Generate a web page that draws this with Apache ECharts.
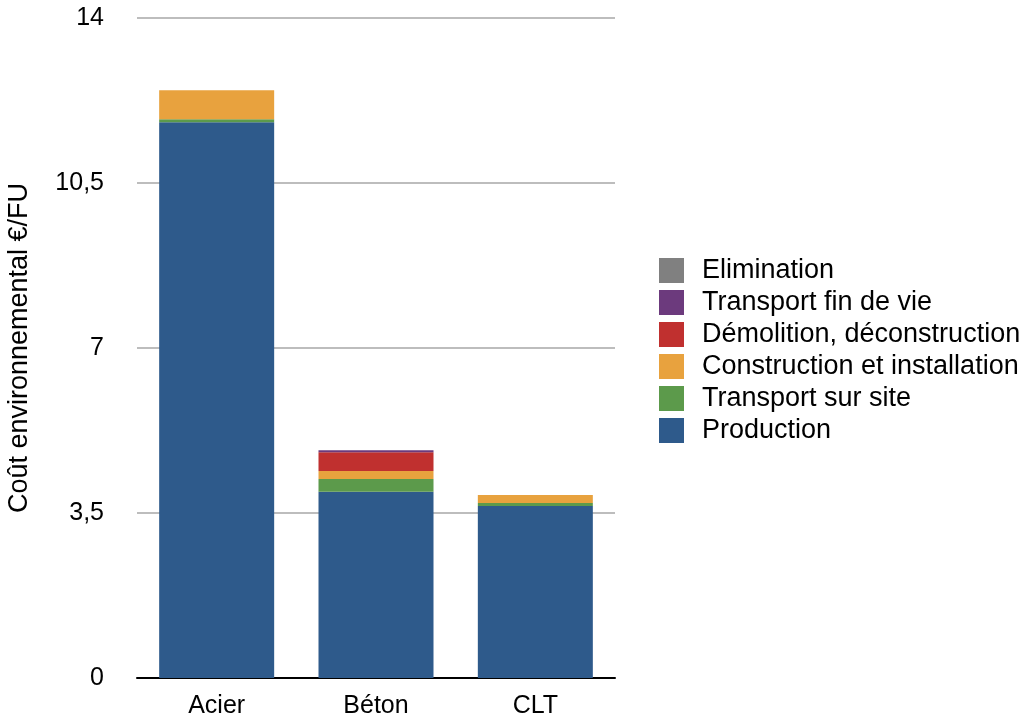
<!DOCTYPE html>
<html>
<head>
<meta charset="utf-8">
<script src="https://cdn.jsdelivr.net/npm/echarts@6/dist/echarts.min.js"></script>
<style>
  html, body { margin: 0; padding: 0; background: #fff; }
  #chart { width: 1026px; height: 717px; }
</style>
</head>
<body>
<div id="chart"></div>
<script>
// Building systems compared
const categories = ['Acier', 'Béton', 'CLT'];

// Life-cycle stages, stacked bottom to top (€/FU)
const production      = [11.79, 3.95, 3.65];
const transportSite   = [0.06, 0.27, 0.06];
const construction    = [0.62, 0.17, 0.17];
const demolition      = [0, 0.40, 0];
const transportEnd    = [0, 0.04, 0];
const elimination     = [0, 0, 0];

const yTicks = { min: 0, max: 14, interval: 3.5 };

const stages = [
  { name: 'Production', data: production, color: '#2e5a8b' },
  { name: 'Transport sur site', data: transportSite, color: '#5c9a4b' },
  { name: 'Construction et installation', data: construction, color: '#e8a23e' },
  { name: 'Démolition, déconstruction', data: demolition, color: '#c0302f' },
  { name: 'Transport fin de vie', data: transportEnd, color: '#6c3a7d' },
  { name: 'Elimination', data: elimination, color: '#808080' }
];

const font = '"Liberation Sans", Arial, Helvetica, sans-serif';
const chart = echarts.init(document.getElementById('chart'), null, { renderer: 'canvas' });

chart.setOption({
  animation: false,
  backgroundColor: '#ffffff',
  textStyle: { fontFamily: font, color: '#000' },
  grid: { left: 137, right: 411, top: 18, bottom: 39, containLabel: false, outerBoundsMode: 'none' },
  legend: {
    data: stages.map(s => s.name).reverse(),
    orient: 'vertical',
    left: 654,
    top: 252,
    itemWidth: 25,
    itemHeight: 25,
    itemGap: 5,
    icon: 'rect',
    selectedMode: false,
    textStyle: { fontFamily: font, fontSize: 27, lineHeight: 25, color: '#000', padding: [0, 0, 0, 13] }
  },
  xAxis: {
    type: 'category',
    data: categories,
    axisLine: { lineStyle: { color: '#000', width: 2 } },
    axisTick: { show: false },
    axisLabel: { fontFamily: font, fontSize: 25, color: '#000', margin: 16 }
  },
  yAxis: {
    type: 'value',
    min: yTicks.min,
    max: yTicks.max,
    interval: yTicks.interval,
    name: 'Coût environnemental €/FU',
    nameLocation: 'middle',
    nameGap: 104,
    nameTextStyle: { fontFamily: font, fontSize: 27, color: '#000' },
    axisLine: { show: false },
    axisTick: { show: false },
    axisLabel: {
      fontFamily: font, fontSize: 25, color: '#000', margin: 33,
      formatter: v => String(v).replace('.', ',')
    },
    splitLine: { lineStyle: { color: '#bdbdbd', width: 2 } }
  },
  series: stages.map(s => ({
    name: s.name,
    type: 'bar',
    stack: 'total',
    barWidth: 115,
    data: s.data,
    itemStyle: { color: s.color },
    emphasis: { disabled: true }
  }))
});
</script>
</body>
</html>
